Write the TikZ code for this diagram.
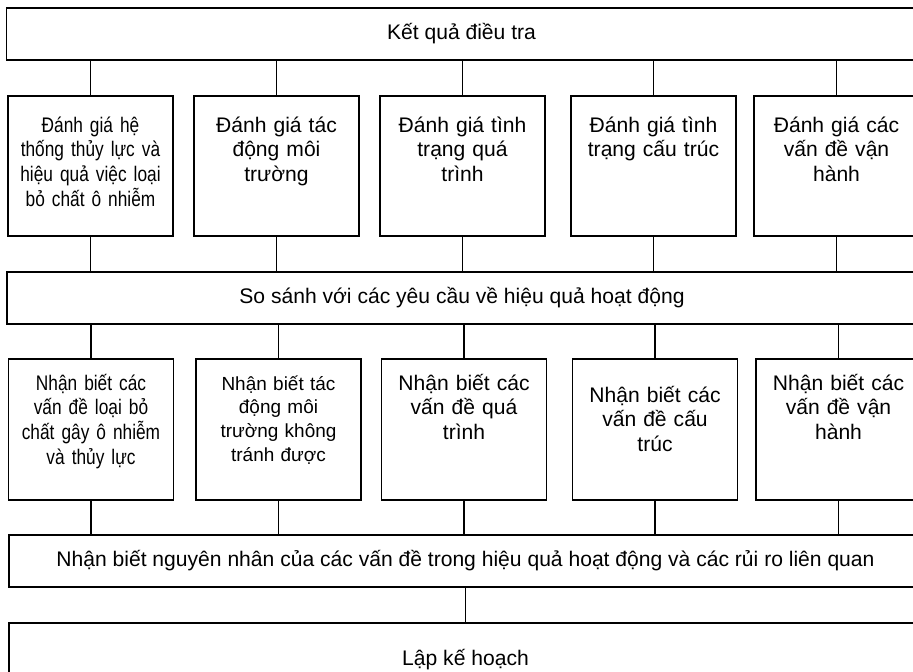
\documentclass[tikz,border=0pt]{standalone}
\usepackage{fontspec}
\setmainfont{Liberation Sans}
\newfontfamily\narrowfont[FakeStretch=0.82]{Liberation Sans}
\usetikzlibrary{positioning}

\begin{document}
\begin{tikzpicture}[x=0.02cm, y=-0.02cm,
    widebox/.style={rectangle, draw, line width=1pt, minimum width=18.2cm,
                minimum height=1.04cm, font=\fontsize{12}{14}\selectfont},
    evalbox/.style={rectangle, draw, line width=1pt, minimum width=3.3cm,
                text width=3.0cm, align=center, inner ysep=0pt,
                text height=0.72cm, text depth=2.08cm,
                font=\fontsize{12}{14.2}\selectfont},
    findbox/.style={evalbox, text height=0.62cm, text depth=2.2cm},
    link/.style={line width=0.8pt}]

    \useasboundingbox (0,0) rectangle (913,672);
    \clip (0,0) rectangle (913,672);

    % Survey results
    \node[widebox] (res) at (461.5,34) {Kết quả điều tra};

    % Assessments
    \node[evalbox] (e1) at (90.5,166) {\narrowfont Đánh giá hệ\\thống thủy lực và\\hiệu quả việc loại\\bỏ chất ô nhiễm};
    \node[evalbox] (e2) at (276.5,166) {Đánh giá tác\\động môi\\trường};
    \node[evalbox] (e3) at (462.5,166) {Đánh giá tình\\trạng quá\\trình};
    \node[evalbox] (e4) at (653.5,166) {Đánh giá tình\\trạng cấu trúc};
    \node[evalbox] (e5) at (836.5,166) {Đánh giá các\\vấn đề vận\\hành};

    % Comparison
    \node[widebox] (cmp) at (462,298) {So sánh với các yêu cầu về hiệu quả hoạt động};

    % Problems found
    \node[findbox] (f1) at (91,429.5) {\narrowfont Nhận biết các\\vấn đề loại bỏ\\chất gây ô nhiễm\\và thủy lực};
    \node[findbox, font=\fontsize{10.8}{13.6}\selectfont] (f2) at (278.5,429.5) {Nhận biết tác\\động môi\\trường không\\tránh được};
    \node[findbox] (f3) at (464,429.5) {Nhận biết các\\vấn đề quá\\trình};
    \node[findbox, text height=0.86cm, text depth=1.96cm] (f4) at (655,429.5) {Nhận biết các\\vấn đề cấu\\trúc};
    \node[findbox] (f5) at (838.5,429.5) {Nhận biết các\\vấn đề vận\\hành};

    % Causes
    \node[widebox, minimum width=18.26cm] (cause) at (465.5,561) {Nhận biết nguyên nhân của các vấn đề trong hiệu quả hoạt động và các rủi ro liên quan};

    % Planning
    \node[widebox, minimum width=18.26cm, minimum height=1.48cm] (plan) at (465.5,660) {Lập kế hoạch};

    % Links
    \draw[link] (res.south -| e1.north) -- (e1.north);
    \draw[link] (res.south -| e2.north) -- (e2.north);
    \draw[link] (res.south -| e3.north) -- (e3.north);
    \draw[link] (res.south -| e4.north) -- (e4.north);
    \draw[link] (res.south -| e5.north) -- (e5.north);
    \draw[link] (e1.south) -- (e1.south |- cmp.north);
    \draw[link] (e2.south) -- (e2.south |- cmp.north);
    \draw[link] (e3.south) -- (e3.south |- cmp.north);
    \draw[link] (e4.south) -- (e4.south |- cmp.north);
    \draw[link] (e5.south) -- (e5.south |- cmp.north);
    \draw[link] (cmp.south -| f1.north) -- (f1.north);
    \draw[link] (cmp.south -| f2.north) -- (f2.north);
    \draw[link] (cmp.south -| f3.north) -- (f3.north);
    \draw[link] (cmp.south -| f4.north) -- (f4.north);
    \draw[link] (cmp.south -| f5.north) -- (f5.north);
    \draw[link] (f1.south) -- (f1.south |- cause.north);
    \draw[link] (f2.south) -- (f2.south |- cause.north);
    \draw[link] (f3.south) -- (f3.south |- cause.north);
    \draw[link] (f4.south) -- (f4.south |- cause.north);
    \draw[link] (f5.south) -- (f5.south |- cause.north);
    \draw[link] (cause.south) -- (plan.north);
\end{tikzpicture}
\end{document}
